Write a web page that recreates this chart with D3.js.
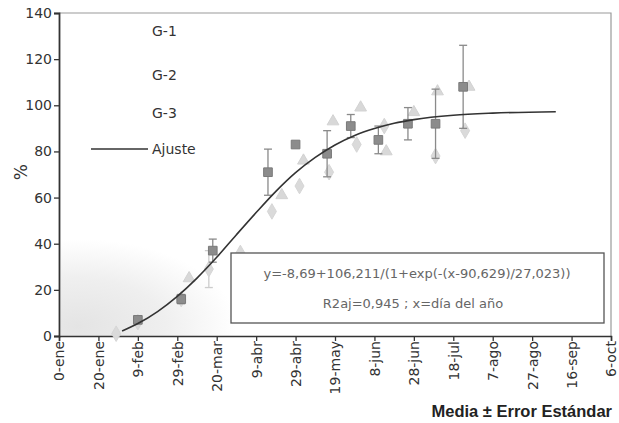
<!DOCTYPE html>
<html>
<head>
<meta charset="utf-8">
<script src="https://cdn.jsdelivr.net/npm/d3@7"></script>
<style>
  body { margin: 0; background: #fff; }
  svg { display: block; }
</style>
</head>
<body>
<div id="chart"></div>
<script>
const width = 619;
const height = 423;
const margin = { top: 13, right: 8, bottom: 87, left: 59 };

// x = day of year, y = %
const tickDays = [0, 20, 40, 60, 80, 100, 120, 140, 160, 180, 200, 220, 240, 260, 280];
const tickLabels = ["0-ene", "20-ene", "9-feb", "29-feb", "20-mar", "9-abr", "29-abr", "19-may",
  "8-jun", "28-jun", "18-jul", "7-ago", "27-ago", "16-sep", "6-oct"];
const yTicks = [0, 20, 40, 60, 80, 100, 120, 140];

// G-1 (diamonds)
const g1Days = [29, 40, 62, 76, 92, 108, 122, 137, 151, 165, 191, 206];
const g1Vals = [1, 6, 16, 29, 36, 54, 65, 71, 83, 91, 78, 89];
const g1Err  = [0, 0, 0, 8, 0, 0, 0, 0, 0, 0, 0, 0];

// G-2 (squares)
const g2Days = [40, 62, 78, 106, 120, 136, 148, 162, 177, 191, 205];
const g2Vals = [7, 16, 37, 71, 83, 79, 91, 85, 92, 92, 108];
const g2Err  = [0, 2, 5, 10, 0, 10, 5, 6, 7, 15, 18];

// G-3 (triangles)
const g3Days = [66, 113, 124, 139, 153, 166, 180, 192, 208];
const g3Vals = [25, 61, 76, 93, 99, 80, 97, 106, 108];
const g3Err  = [0, 0, 0, 0, 0, 0, 0, 0, 0];

// Ajuste (fitted curve)
const fitDays = [32, 40, 50, 60, 70, 80, 90, 100, 110, 120, 130, 140, 150, 160, 170, 180, 200, 220, 252];
const fitVals = [2.2, 5.4, 10.6, 17.2, 25.1, 34.1, 43.9, 53.5, 62.7, 70.8, 77.4, 82.8, 86.9, 89.9, 92.2, 93.8, 95.7, 96.6, 97.2];

const legendNames = ["G-1", "G-2", "G-3", "Ajuste"];
const eqLine1 = "y=-8,69+106,211/(1+exp(-(x-90,629)/27,023))";
const eqLine2 = "R2aj=0,945 ; x=día del año";

const svg = d3.select('#chart')
  .append('svg')
  .attr('width', width)
  .attr('height', height);

const x = d3.scaleLinear().domain([0, 280]).range([margin.left, width - margin.right]);
const y = d3.scaleLinear().domain([0, 140]).range([height - margin.bottom, margin.top]);

// faint scan shading in lower left
const defs = svg.append('defs');
const grad = defs.append('radialGradient').attr('id', 'shade')
  .attr('cx', '0.1').attr('cy', '0.9').attr('r', '0.9');
grad.append('stop').attr('offset', '0%').attr('stop-color', '#e4e4e4');
grad.append('stop').attr('offset', '55%').attr('stop-color', '#efefef');
grad.append('stop').attr('offset', '100%').attr('stop-color', '#ffffff');
svg.append('rect')
  .attr('x', x(1)).attr('y', y(42))
  .attr('width', x(90) - x(1)).attr('height', y(0) - y(42))
  .attr('fill', 'url(#shade)');

// frame (top and right, light)
svg.append('path')
  .attr('d', `M${x(0)},${y(140)}H${x(280)}V${y(0)}`)
  .attr('fill', 'none')
  .attr('stroke', '#9a9a9a')
  .attr('stroke-width', 1.2);

// axes
const xAxis = d3.axisBottom(x)
  .tickValues(tickDays)
  .tickFormat((d, i) => tickLabels[i])
  .tickSize(5);
const gx = svg.append('g')
  .attr('transform', `translate(0,${y(0)})`)
  .call(xAxis);
gx.select('.domain').attr('stroke', '#333').attr('stroke-width', 1.5);
gx.selectAll('.tick line').attr('stroke', '#333').attr('stroke-width', 1.3);
gx.selectAll('.tick text')
  .attr('transform', 'rotate(-90)')
  .attr('text-anchor', 'end')
  .attr('x', -5)
  .attr('y', 0)
  .attr('dy', '0.35em')
  .attr('fill', '#333')
  .style('font-family', '"DejaVu Sans", Verdana, sans-serif')
  .style('font-size', '14px');

const yAxis = d3.axisLeft(y).tickValues(yTicks).tickSize(5);
const gy = svg.append('g')
  .attr('transform', `translate(${x(0)},0)`)
  .call(yAxis);
gy.select('.domain').attr('stroke', '#333').attr('stroke-width', 1.8);
gy.selectAll('.tick line').attr('stroke', '#333').attr('stroke-width', 1.3);
gy.selectAll('.tick text')
  .attr('x', -7)
  .attr('fill', '#333')
  .style('font-family', '"DejaVu Sans", Verdana, sans-serif')
  .style('font-size', '14px');

// y label
svg.append('text')
  .attr('transform', `translate(27,${y(71)}) rotate(-90)`)
  .attr('text-anchor', 'middle')
  .attr('fill', '#333')
  .style('font-family', '"DejaVu Sans", Verdana, sans-serif')
  .style('font-size', '17px')
  .text('%');

// x caption
svg.append('text')
  .attr('x', 612)
  .attr('y', 417)
  .attr('text-anchor', 'end')
  .attr('fill', '#222')
  .style('font-family', '"Liberation Sans", Arial, sans-serif')
  .style('font-weight', 'bold')
  .style('font-size', '16.5px')
  .text('Media \u00b1 Error Estándar');

// series
const series = [
  { days: g1Days, vals: g1Vals, err: g1Err, shape: d3.symbolDiamond, size: 70, fill: '#dadada', stroke: '#d6d6d6', errColor: '#cccccc' },
  { days: g3Days, vals: g3Vals, err: g3Err, shape: d3.symbolTriangle, size: 60, fill: '#d8d8d8', stroke: '#d2d2d2', errColor: '#cccccc' },
  { days: g2Days, vals: g2Vals, err: g2Err, shape: d3.symbolSquare, size: 75, fill: '#8c8c8c', stroke: '#7a7a7a', errColor: '#8a8a8a' }
];

series.forEach(s => {
  const pts = s.days.map((d, i) => ({ d: d, v: s.vals[i], e: s.err[i] }));
  const grp = svg.append('g');
  const eb = grp.selectAll('.eb')
    .data(pts.filter(p => p.e > 0))
    .join('g')
    .attr('stroke', s.errColor)
    .attr('stroke-width', 1.3);
  eb.append('line')
    .attr('x1', p => x(p.d)).attr('x2', p => x(p.d))
    .attr('y1', p => y(p.v + p.e)).attr('y2', p => y(p.v - p.e));
  eb.append('line')
    .attr('x1', p => x(p.d) - 4).attr('x2', p => x(p.d) + 4)
    .attr('y1', p => y(p.v + p.e)).attr('y2', p => y(p.v + p.e));
  eb.append('line')
    .attr('x1', p => x(p.d) - 4).attr('x2', p => x(p.d) + 4)
    .attr('y1', p => y(p.v - p.e)).attr('y2', p => y(p.v - p.e));
  grp.selectAll('.pt')
    .data(pts)
    .join('path')
    .attr('transform', p => `translate(${x(p.d)},${y(p.v)})`)
    .attr('d', d3.symbol().type(s.shape).size(s.size))
    .attr('fill', s.fill)
    .attr('stroke', s.stroke);
});

// fitted curve
const fitLine = d3.line()
  .x((d, i) => x(fitDays[i]))
  .y(d => y(d))
  .curve(d3.curveMonotoneX);
svg.append('path')
  .datum(fitVals)
  .attr('d', fitLine)
  .attr('fill', 'none')
  .attr('stroke', '#333')
  .attr('stroke-width', 1.6);

// legend
const legendY = [31, 75, 113, 149];
const lg = svg.append('g')
  .style('font-family', '"DejaVu Sans", Verdana, sans-serif')
  .style('font-size', '14px');
legendNames.forEach((name, i) => {
  lg.append('text')
    .attr('x', 152)
    .attr('y', legendY[i])
    .attr('dy', '0.35em')
    .attr('fill', '#333')
    .text(name);
});
lg.append('line')
  .attr('x1', 91).attr('x2', 148)
  .attr('y1', legendY[3]).attr('y2', legendY[3])
  .attr('stroke', '#333')
  .attr('stroke-width', 1.4);

// equation box
const box = svg.append('g');
box.append('rect')
  .attr('x', 231).attr('y', 253)
  .attr('width', 373).attr('height', 70)
  .attr('fill', '#fff')
  .attr('stroke', '#555')
  .attr('stroke-width', 1.3);
box.append('text')
  .attr('x', 417).attr('y', 278)
  .attr('text-anchor', 'middle')
  .attr('fill', '#666')
  .style('font-family', '"DejaVu Sans", Verdana, sans-serif')
  .style('font-size', '13px')
  .text(eqLine1);
box.append('text')
  .attr('x', 413).attr('y', 308)
  .attr('text-anchor', 'middle')
  .attr('fill', '#666')
  .style('font-family', '"DejaVu Sans", Verdana, sans-serif')
  .style('font-size', '13px')
  .text(eqLine2);
</script>
</body>
</html>
